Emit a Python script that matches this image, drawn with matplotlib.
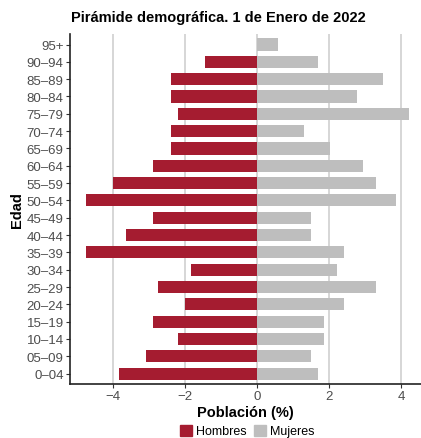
import numpy as np
import matplotlib
matplotlib.use("Agg")
import matplotlib.pyplot as plt
from matplotlib.patches import Patch

plt.rcParams['font.family'] = ['Liberation Sans', 'DejaVu Sans']

edades = ["0–04", "05–09", "10–14", "15–19", "20–24", "25–29", "30–34",
          "35–39", "40–44", "45–49", "50–54", "55–59", "60–64", "65–69",
          "70–74", "75–79", "80–84", "85–89", "90–94", "95+"]
hombres = [3.83, 3.08, 2.19, 2.89, 2.00, 2.75, 1.83, 4.75, 3.64, 2.89,
           4.75, 4.00, 2.89, 2.38, 2.38, 2.19, 2.38, 2.38, 1.45, 0.0]
mujeres = [1.68, 1.49, 1.86, 1.86, 2.42, 3.30, 2.23, 2.42, 1.49, 1.49,
           3.85, 3.30, 2.93, 2.02, 1.31, 4.23, 2.76, 3.49, 1.68, 0.57]
xticks = [-4, -2, 0, 2, 4]

rojo = "#A51C30"
gris = "#BEBEBE"
txt = "#4D4D4D"


def main():
    fig = plt.figure(figsize=(4.21, 4.39), dpi=100)
    ax = fig.add_axes([0.166, 0.123, 0.834, 0.797])

    y = np.arange(len(edades))
    ax.barh(y, -np.array(hombres), height=0.7, color=rojo, zorder=3)
    ax.barh(y, mujeres, height=0.7, color=gris, zorder=3)

    ax.set_xlim(-5.2, 4.55)
    ax.set_ylim(-0.6, len(edades) - 0.4)
    ax.set_xticks(xticks)
    ax.set_xticklabels(["−4", "−2", "0", "2", "4"])
    ax.set_yticks(y)
    ax.set_yticklabels(edades)
    ax.grid(axis="x", color="#D3D3D3", linewidth=1.3, zorder=0)
    ax.tick_params(axis="both", labelsize=9.5, labelcolor=txt, color="#333333",
                   length=3, width=0.8, pad=1.5)

    for s in ["top", "right"]:
        ax.spines[s].set_visible(False)
    for s in ["left", "bottom"]:
        ax.spines[s].set_linewidth(1.2)
        ax.spines[s].set_color("#222222")

    ax.set_xlabel("Población (%)", fontsize=10.5, fontweight="bold", labelpad=2)
    ax.set_ylabel("Edad", fontsize=10.5, fontweight="bold", labelpad=2)
    fig.text(0.518, 0.958, "Pirámide demográfica. 1 de Enero de 2022",
             ha="center", va="center", fontsize=10.5, fontweight="bold")

    handles = [Patch(color=rojo, label="Hombres"), Patch(color=gris, label="Mujeres")]
    fig.legend(handles=handles, loc="center", bbox_to_anchor=(0.587, 0.016),
               ncol=2, frameon=False, fontsize=9, handlelength=1.0,
               handleheight=1.0, handletextpad=0.3, columnspacing=0.6)

    fig.savefig("out.png", dpi=100)


if __name__ == '__main__':
    main()
